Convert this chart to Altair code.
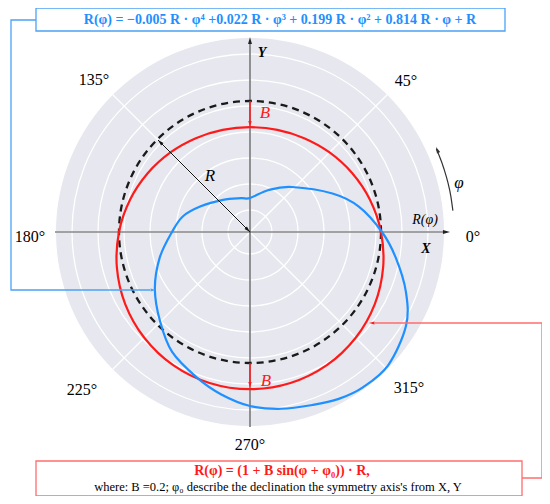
import math
import altair as alt
import pandas as pd

# ---------------- data ----------------
R_BASE = 131            # radius R of the dashed reference circle (px units)
B_COEF = 0.2
DISK_RADIUS = 194
ring_radii = [22, 48, 74, 100, 126, 152, 178]
spoke_angles = [0, 45, 90, 135, 180, 225, 270, 315]

red_angles = list(range(0, 360, 15))
red_radii = [131.0, 124.2, 117.9, 112.5, 108.3, 105.7, 104.8, 105.7, 108.3, 112.5,
             117.9, 124.2, 131.0, 137.8, 144.1, 149.5, 153.7, 156.3, 157.2, 156.3,
             153.7, 149.5, 144.1, 137.8]

blue_angles = [0, 13, 25, 47, 66, 90, 105, 130, 153, 167, 180, 196, 211, 225, 237,
               250, 260, 270, 280, 290, 298, 306, 316, 329, 339, 350]
blue_radii = [132, 112, 91, 61.5, 46, 34, 35, 42, 56, 69, 78, 94, 111, 127, 143,
              155, 165, 174, 179.5, 184, 189, 192, 192, 182, 167, 148]

phi_arc_angles = [6, 10, 14, 18, 22, 24]
PHI_ARC_R = 204

angle_tick_labels = ["0°", "45°", "135°", "180°", "225°", "270°", "315°"]

top_formula = "R(φ) = −0.005 R · φ⁴ +0.022 R · φ³ + 0.199 R · φ² + 0.814 R · φ + R"
bottom_formula = "R(φ) =  (1 + B sin(φ + φ₀)) · R,"
bottom_note = "where: B =0.2; φ₀ describe the declination the symmetry axis's from X, Y"

# ---------------- layout ----------------
W, H = 534, 488
CX, CY = 250, 232   # page pixel of the pole
xs = alt.Scale(domain=[8 - CX, 8 + W - CX], nice=False, zero=False)
ys = alt.Scale(domain=[CY - 8 - H, CY - 8], nice=False, zero=False)

BLUE = "#1E90FF"
RED = "#FF1A1A"
BLUE_LIGHT = "#4BA3F5"
RED_LIGHT = "#FF6E6E"
DISK = "#E6E7EF"
SERIF = "Liberation Serif"


def P(ix, iy):
    return ix - CX, CY - iy


def X(f="x"):
    return alt.X(f"{f}:Q", scale=xs, axis=None)


def Y(f="y"):
    return alt.Y(f"{f}:Q", scale=ys, axis=None)


def circ_size(r):
    # Vega circle symbol: radius = sqrt(size) / 2
    return (2 * r) ** 2


def polar_df(angles, radii):
    return pd.DataFrame({
        "x": [r * math.cos(math.radians(a)) for a, r in zip(angles, radii)],
        "y": [r * math.sin(math.radians(a)) for a, r in zip(angles, radii)],
        "i": list(range(len(angles))),
    })


def text(ix, iy, s, size=16, color="black", weight="normal", style="normal", font=SERIF, align="center"):
    x, y = P(ix, iy)
    return alt.Chart(pd.DataFrame({"x": [x], "y": [y], "t": [s]})).mark_text(
        font=font, fontSize=size, color=color, fontWeight=weight, fontStyle=style,
        align=align, baseline="middle").encode(x=X(), y=Y(), text="t:N")


def polyline(pts, color, width=1.0, dash=None):
    df = pd.DataFrame({"x": [P(a, b)[0] for a, b in pts], "y": [P(a, b)[1] for a, b in pts],
                       "i": list(range(len(pts)))})
    kw = dict(color=color, strokeWidth=width)
    if dash:
        kw["strokeDash"] = dash
    return alt.Chart(df).mark_line(**kw).encode(x=X(), y=Y(), order="i:Q")


ARROW = "M0,0L-0.55,2L0.55,2Z"


def head(ix, iy, ang, color, size=64):
    x, y = P(ix, iy)
    return alt.Chart(pd.DataFrame({"x": [x], "y": [y]})).mark_point(
        shape=ARROW, filled=True, color=color, opacity=1, size=size, angle=ang, strokeWidth=0
    ).encode(x=X(), y=Y())


def rect(x1, y1, x2, y2, color):
    a, b = P(x1, y1)
    c, d = P(x2, y2)
    return alt.Chart(pd.DataFrame({"x": [a], "y": [b], "x2": [c], "y2": [d]})).mark_rect(
        fill="white", stroke=color, strokeWidth=1.3).encode(
        x=X(), y=Y(), x2="x2:Q", y2="y2:Q")


layers = []

# polar background disk
layers.append(alt.Chart(pd.DataFrame({"x": [0], "y": [0]})).mark_point(
    shape="circle", filled=True, color=DISK, opacity=1, strokeWidth=0,
    size=circ_size(DISK_RADIUS)).encode(x=X(), y=Y()))

# grid rings
rings = pd.DataFrame({"x": [0] * len(ring_radii), "y": [0] * len(ring_radii),
                      "s": [circ_size(r) for r in ring_radii]})
layers.append(alt.Chart(rings).mark_point(shape="circle", filled=False, color="white",
                                          opacity=1, strokeWidth=1.3).encode(
    x=X(), y=Y(), size=alt.Size("s:Q", scale=None, legend=None)))

# grid spokes
spokes = pd.DataFrame({"x": [0] * len(spoke_angles), "y": [0] * len(spoke_angles),
                       "x2": [DISK_RADIUS * math.cos(math.radians(a)) for a in spoke_angles],
                       "y2": [DISK_RADIUS * math.sin(math.radians(a)) for a in spoke_angles]})
layers.append(alt.Chart(spokes).mark_rule(color="white", strokeWidth=1.3).encode(
    x=X(), y=Y(), x2="x2:Q", y2="y2:Q"))

# axes
layers.append(polyline([(55, 232), (446, 232)], "#4a4a4a", 1.2))
layers.append(polyline([(250, 41), (250, 427)], "#4a4a4a", 1.2))
layers.append(head(450, 232, 90, "#222222", 50))
layers.append(head(250, 37, 0, "#222222", 50))

# dashed circle R
layers.append(alt.Chart(pd.DataFrame({"x": [0], "y": [0]})).mark_point(
    shape="circle", filled=False, color="#1a1a1a", opacity=1, strokeWidth=2.3,
    strokeDash=[7, 5], size=circ_size(R_BASE)).encode(x=X(), y=Y()))

# red model curve
layers.append(alt.Chart(polar_df(red_angles, red_radii)).mark_line(
    color=RED, strokeWidth=2.2, interpolate="cardinal-closed").encode(x=X(), y=Y(), order="i:Q"))

# blue measured curve
layers.append(alt.Chart(polar_df(blue_angles, blue_radii)).mark_line(
    color=BLUE, strokeWidth=2.2, interpolate="cardinal-closed").encode(x=X(), y=Y(), order="i:Q"))

# R arrow
layers.append(polyline([(250, 232), (158, 140)], "#111111", 1.0))
layers.append(head(158, 140, 315, "#111111", 36))
layers.append(head(250, 232, 135, "#111111", 36))
layers.append(text(210, 176, "R", 17, style="italic"))

# B arrows
layers.append(polyline([(250, 101), (250, 124)], RED, 1.5))
layers.append(head(250, 127, 180, RED, 36))
layers.append(text(265, 113, "B", 17, color=RED, style="italic"))
layers.append(polyline([(250, 363), (250, 385)], RED, 1.5))
layers.append(head(250, 388, 180, RED, 36))
layers.append(text(266, 381, "B", 17, color=RED, style="italic"))

# phi arc arrow
arc = polar_df(phi_arc_angles, [PHI_ARC_R] * len(phi_arc_angles))
layers.append(alt.Chart(arc).mark_line(color="#333333", strokeWidth=1.2, interpolate="monotone").encode(
    x=X(), y=Y(), order="i:Q"))
layers.append(head(436, 147, 336, "#333333", 40))
layers.append(text(459, 183, "φ", 17, style="italic"))
layers.append(text(425, 220, "R(φ)", 14, style="italic"))
layers.append(text(426, 249, "X", 14, weight="bold", style="italic"))
layers.append(text(262, 53, "Y", 14, weight="bold", style="italic"))

# angle labels
for (ix, iy), s in zip([(473, 237), (406, 81), (94, 80), (30, 237), (82, 390), (250, 445), (409, 388)],
                       angle_tick_labels):
    layers.append(text(ix, iy, s, 16))

# top formula box + connector
layers.append(polyline([(36, 20), (11, 20), (11, 290), (150, 290)], BLUE_LIGHT, 1.3))
layers.append(head(156, 290, 90, BLUE_LIGHT, 30))
layers.append(rect(36, 8, 505, 31, BLUE_LIGHT))
layers.append(text(280, 20, top_formula, 14, color=BLUE, weight="bold"))

# bottom formula box + connector
layers.append(polyline([(522, 478), (542, 478), (542, 323), (375, 323)], RED_LIGHT, 1.3))
layers.append(head(369, 323, 270, RED, 30))
layers.append(rect(36, 461, 522, 496, RED_LIGHT))
layers.append(text(282, 471, bottom_formula, 14, color=RED, weight="bold"))
layers.append(text(278, 487, bottom_note, 12.5))

chart = alt.layer(*layers).properties(
    width=W, height=H, padding=0, autosize=alt.AutoSizeParams(type="none")
).configure_view(stroke=None)

chart.save("out.html", embed_options={"renderer": "svg", "actions": False})
